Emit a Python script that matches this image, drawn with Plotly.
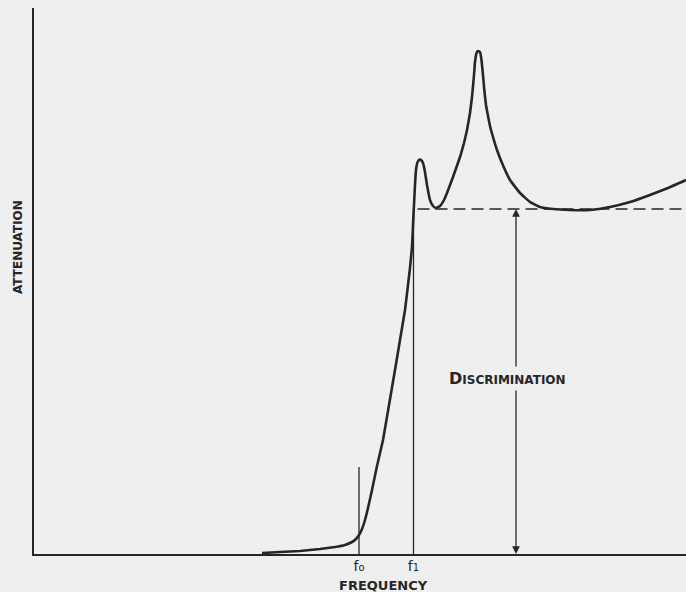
import plotly.graph_objects as go

# Attenuation curve (arbitrary units)
freq = [228, 246, 266, 286, 301, 311, 318, 322, 325, 328, 331, 334, 338, 343, 349,
        355, 361, 366, 371, 374, 376, 378, 379, 380, 381, 382, 383, 384.5, 386,
        387.5, 389, 391, 393, 396, 399, 402, 406, 410, 413, 419, 426, 430,
        433, 436, 438, 440, 441, 442.5, 444, 446, 447.5, 449, 450.5, 452, 454, 456, 459,
        463, 468, 476, 486, 496, 506, 519, 536, 556, 576, 596, 616, 634, 652]
atten = [1, 2, 3, 5, 7, 9, 12, 15, 19, 25, 34, 46, 64, 88, 114,
         149, 184, 214, 244, 269, 286, 307, 329, 349, 369, 384, 390, 393.5, 394.5,
         393.5, 391, 382, 369, 354, 348, 346, 348, 354, 361, 377, 397, 411,
         424, 441, 457, 479, 492, 501, 503, 502, 494, 479, 462, 449, 438, 428, 417,
         404, 391, 374, 361, 352, 347, 345, 344, 344, 347, 352, 359, 366, 374]

f0 = 325
f1 = 379.5
f0_mark = 87
level = 345          # discrimination level (dashed)
arrow_x = 482
label_x = 473
label_y = 176
x_max = 652
y_max = 546

tick_vals = [f0, f1]
tick_text = ["f<span style='font-size:10px'>o</span>", "f<span style='font-size:10px'>1</span>"]

ink = "#262626"
bg = "#efefef"
font_family = "DejaVu Sans"

fig = go.Figure()
fig.add_trace(go.Scatter(x=freq, y=atten, mode="lines",
                         line=dict(color=ink, width=2.6, shape="spline", smoothing=0.3),
                         hoverinfo="skip", showlegend=False))

shapes = [
    dict(type="line", x0=f0, x1=f0, y0=0, y1=f0_mark, line=dict(color=ink, width=1.3)),
    dict(type="line", x0=f1, x1=f1, y0=0, y1=level, line=dict(color=ink, width=1.3)),
    dict(type="line", x0=f1 + 4, x1=x_max, y0=level, y1=level,
         line=dict(color=ink, width=1.3, dash="12px,6px")),
]

annotations = [
    dict(x=arrow_x, y=level, ax=arrow_x, ay=label_y, xref="x", yref="y", axref="x", ayref="y",
         showarrow=True, arrowhead=2, arrowsize=1.2, arrowwidth=1.3, arrowcolor=ink,
         text="", standoff=0),
    dict(x=arrow_x, y=0, ax=arrow_x, ay=label_y, xref="x", yref="y", axref="x", ayref="y",
         showarrow=True, arrowhead=2, arrowsize=1.2, arrowwidth=1.3, arrowcolor=ink,
         text="", standoff=0),
    dict(x=label_x, y=label_y, xref="x", yref="y", showarrow=False,
         text="<b><span style='font-size:16px'>D</span>ISCRIMINATION</b>",
         font=dict(family=font_family, size=12, color=ink), bgcolor=bg, borderpad=2),
    dict(x=-16 / 652, y=(554 - 247) / 546, xref="paper", yref="paper", showarrow=False,
         xanchor="center", yanchor="middle",
         text="<b>ATTENUATION</b>", textangle=-90,
         font=dict(family=font_family, size=12, color=ink)),
    dict(x=(383 - 34) / 652, y=-31 / 546, xref="paper", yref="paper", showarrow=False,
         xanchor="center", yanchor="middle",
         text="<b>FREQUENCY</b>", font=dict(family=font_family, size=13, color=ink)),
]

fig.update_layout(
    width=686, height=592,
    margin=dict(l=34, r=0, t=8, b=38),
    paper_bgcolor=bg, plot_bgcolor=bg,
    shapes=shapes, annotations=annotations,
    xaxis=dict(range=[0, x_max], showgrid=False, zeroline=False, showline=True,
               linecolor=ink, linewidth=2, tickvals=tick_vals, ticktext=tick_text,
               ticks="", ticklabelstandoff=-2,
               tickfont=dict(family=font_family, size=14, color=ink),
               fixedrange=True),
    yaxis=dict(range=[0, y_max], showgrid=False, zeroline=False, showline=True,
               linecolor=ink, linewidth=2, showticklabels=False, ticks="",
               fixedrange=True),
)

fig.write_html("out.html", config={"displayModeBar": False},
               post_script="document.body.style.margin='0';document.body.style.background='#efefef';")
